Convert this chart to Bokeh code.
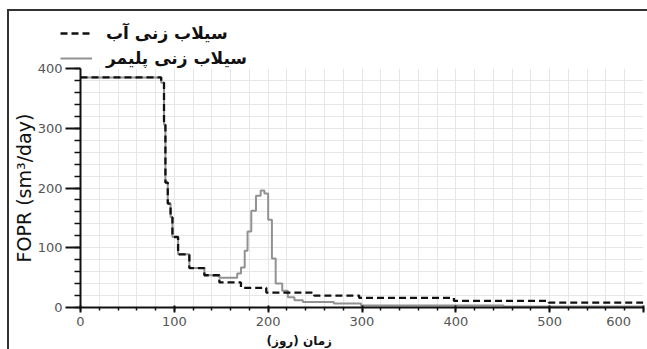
from bokeh.plotting import figure
from bokeh.layouts import column
from bokeh.models import (SingleIntervalTicker, Legend, LegendItem, Title)
from bokeh.embed import file_html
from bokeh.resources import INLINE

# Field oil production rate, step-wise report values (time in days)
water_days = [0, 86, 89, 90.5, 93, 96, 98, 104, 116, 132, 148, 171, 198, 249, 297, 398, 499, 600]
water_fopr = [385, 376, 306, 209, 174, 151, 118, 89, 66, 54, 42, 33, 25, 20, 16, 11, 8, 8]

polymer_days = [0, 86, 89, 90.5, 93, 96, 98, 104, 116, 132, 148, 167, 171, 175, 178, 182, 187,
                192, 196, 200, 204, 208, 215, 221, 228, 237, 270, 299, 451, 600]
polymer_fopr = [385, 376, 306, 209, 174, 151, 118, 89, 66, 54, 50, 57, 67, 95, 127, 162, 187,
                196, 191, 147, 82, 40, 28, 17, 12, 9, 6.5, 3.5, 1.5, 1.5]

water_label = "سیلاب زنی آب"
polymer_label = "سیلاب زنی پلیمر"
x_title = "زمان (روز)"
y_title = "FOPR (sm³/day)"
x_ticks_max = 600

WATER_STYLE = dict(line_color="#111111", line_width=2.3, line_dash="7 4")
POLY_STYLE = dict(line_color="#929292", line_width=2)

# ---- main chart -------------------------------------------------------------
p = figure(width=638, height=289, x_range=(0, 600), y_range=(0, 400),
           output_backend="svg", toolbar_location=None,
           min_border_left=70, min_border_right=4, min_border_top=8, min_border_bottom=42)
p.styles = {"margin-top": "-8px"}
p.outline_line_color = None
p.background_fill_color = "white"
p.border_fill_color = None

r_poly = p.step(polymer_days, polymer_fopr, mode="after", **POLY_STYLE)
r_water = p.step(water_days, water_fopr, mode="after", **WATER_STYLE)

for ax in (p.xaxis[0], p.yaxis[0]):
    ax.ticker = SingleIntervalTicker(interval=100, num_minor_ticks=5)
    ax.axis_line_color = "#111111"
    ax.axis_line_width = 2
    ax.major_tick_line_color = "#111111"
    ax.major_tick_line_width = 2
    ax.minor_tick_line_color = "#111111"
    ax.minor_tick_line_width = 1.5
    ax.major_label_text_font = "DejaVu Sans"
    ax.major_label_text_font_size = "13px"
    ax.major_label_text_color = "#555555"

p.yaxis.major_tick_out = 15
p.yaxis.major_tick_in = 0
p.yaxis.minor_tick_out = 6
p.yaxis.minor_tick_in = 0
p.yaxis.major_label_standoff = 3
p.yaxis.axis_label = y_title
p.yaxis.axis_label_text_font = "DejaVu Sans"
p.yaxis.axis_label_text_font_size = "19px"
p.yaxis.axis_label_text_font_style = "normal"
p.yaxis.axis_label_text_color = "#111111"
p.yaxis.axis_label_standoff = 0

p.xaxis.major_tick_out = 5
p.xaxis.major_tick_in = 2
p.xaxis.minor_tick_out = 3
p.xaxis.minor_tick_in = 0
p.xaxis.major_label_standoff = 1
p.xaxis.major_label_overrides = {x_ticks_max: str(x_ticks_max) + "\u00a0" * 4}

for g in (p.xgrid[0], p.ygrid[0]):
    g.grid_line_color = "#e6e6e6"
    g.minor_grid_line_color = "#e6e6e6"
    g.grid_line_width = 1
    g.minor_grid_line_width = 1

# x axis title, placed under the tick labels
p.add_layout(Title(text=x_title, align="left", offset=186, text_font="DejaVu Sans",
                   text_font_size="12px", text_font_style="bold", text_color="#111111",
                   standoff=0), "below")

# ---- legend strip above the chart -------------------------------------------
# the series are drawn far outside this strip's visible range; only their
# legend glyphs show up here
leg = figure(width=638, height=57, x_range=(0, 600), y_range=(5000, 5001),
             x_axis_type=None, y_axis_type=None,
             output_backend="svg", toolbar_location=None, min_border=0)
leg.frame_align = False
leg.outline_line_color = None
leg.grid.visible = False
lw = leg.step(water_days, water_fopr, mode="after", **WATER_STYLE)
lp = leg.step(polymer_days, polymer_fopr, mode="after", **POLY_STYLE)

legend = Legend(items=[LegendItem(label=water_label, renderers=[lw]),
                       LegendItem(label=polymer_label, renderers=[lp])],
                location=(51, 0), padding=0, margin=0, spacing=5,
                glyph_width=32, glyph_height=20, label_height=20, label_standoff=14,
                label_text_font="DejaVu Sans", label_text_font_size="17px",
                label_text_font_style="bold", label_text_color="#111111",
                background_fill_alpha=0, border_line_color=None)
leg.add_layout(legend)

layout = column(leg, p, spacing=0)
layout.styles = {"margin-left": "7px", "margin-top": "9px",
                 "border-left": "2px solid #333", "border-top": "2px solid #333"}

open("out.html", "w").write(file_html(layout, INLINE))
